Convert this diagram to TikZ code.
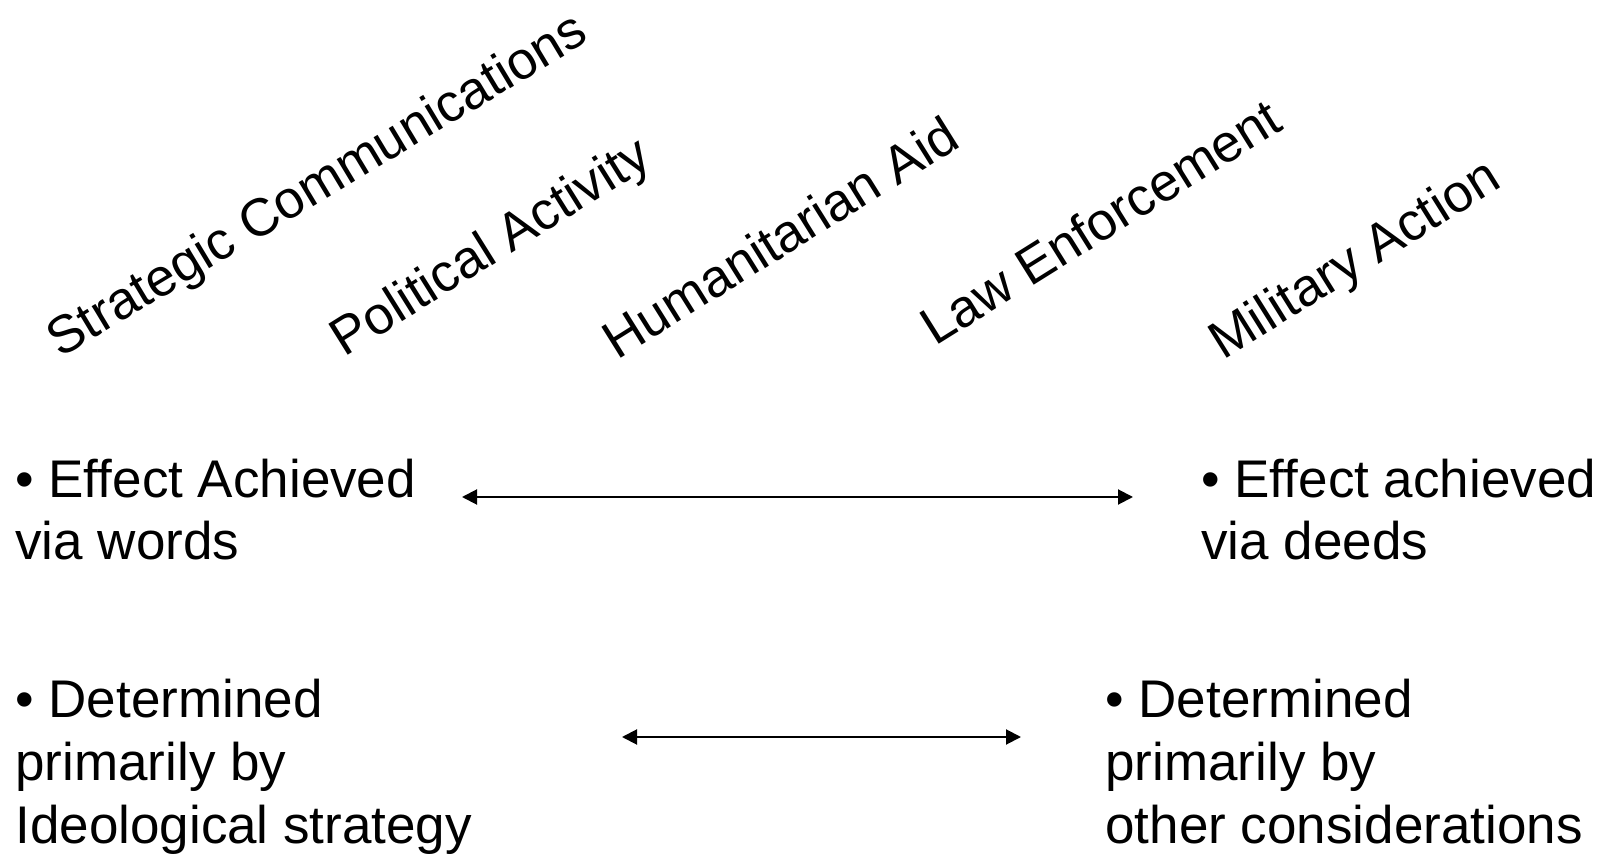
\documentclass[tikz,border=0pt]{standalone}
\usepackage{fontspec}
\setmainfont{Liberation Sans}
\usetikzlibrary{arrows.meta}

\begin{document}
\begin{tikzpicture}[x=0.5pt, y=-0.5pt, >={Triangle[length=7.5pt, width=7.5pt]}]
    % Stili
    \tikzstyle{head} = [rotate=32, anchor=base west, inner sep=0pt, font=\fontsize{26.5pt}{32pt}\selectfont]
    \tikzstyle{point} = [anchor=base west, align=left, inner sep=0pt, font=\fontsize{26.5pt}{31.5pt}\selectfont]
    \tikzstyle{span} = [<->, line width=1pt]

    \useasboundingbox (0,0) rectangle (1617,860);

    % Intestazioni
    \node [head, rotate=-1] (strat) at (60,359) {Strategic Communications};
    \node [head] (polit) at (344,358) {Political Activity};
    \node [head] (human) at (617,361) {Humanitarian Aid};
    \node [head] (law) at (935,347) {Law Enforcement};
    \node [head] (milit) at (1223,361) {Military Action};

    % Punti (ancorati all'ultima riga)
    \node [point] (words) at (15,560) {• Effect Achieved\\via words};
    \node [point] (deeds) at (1201,560) {• Effect achieved\\via deeds};
    \node [point] (ideol) at (15,843) {• Determined\\primarily by\\Ideological strategy};
    \node [point] (other) at (1105,843) {• Determined\\primarily by\\other considerations};

    % Estremi delle frecce
    \coordinate (effect_l) at (462,497);
    \coordinate (effect_r) at (1133,497);
    \coordinate (cause_l) at (622,737);
    \coordinate (cause_r) at (1021,737);

    % Frecce
    \draw [span] (effect_l) -- (effect_r);
    \draw [span] (cause_l) -- (cause_r);
\end{tikzpicture}
\end{document}
